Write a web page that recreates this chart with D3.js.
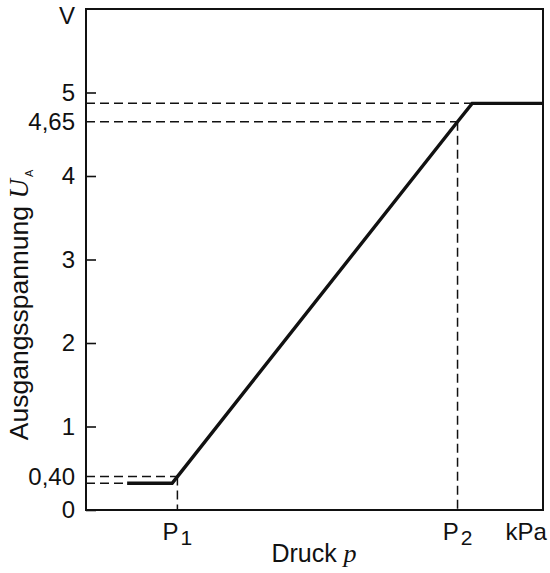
<!DOCTYPE html>
<html><head><meta charset="utf-8">
<script src="https://cdn.jsdelivr.net/npm/d3@7"></script>
<style>
body{margin:0;background:#fff;}
svg{display:block;}
text{font-family:"Liberation Sans",Arial,Helvetica,sans-serif;fill:#111;}
</style></head>
<body><svg id="c" width="550" height="573"></svg>
<script>
// Data
const pressure = [9, 18.85, 20, 81.3, 84.5, 100];
const voltage  = [0.32, 0.32, 0.40, 4.65, 4.87, 4.87];
const yTickValues = [0, 1, 2, 3, 4, 5];
const yLabelValues = [0, 0.40, 1, 2, 3, 4, 4.65, 5, 6];
const yLabelTexts  = ["0", "0,40", "1", "2", "3", "4", "4,65", "5", "V"];
const p1 = 20, p2 = 81.3, kpaPos = 96.3;
const lowLevel = 0.32, highLevel = 4.87;

const svg = d3.select("#c");
const x = d3.scaleLinear().domain([0, 100]).range([86, 543]);
const y = d3.scaleLinear().domain([0, 6]).range([510, 9]);
const ink = "#111";

// inward ticks
const tickAxis = svg.append("g").attr("transform", `translate(${x(0)},0)`)
  .call(d3.axisRight(y).tickValues(yTickValues).tickSize(10).tickFormat(""));
tickAxis.select(".domain").remove();
tickAxis.selectAll("line").attr("stroke", ink).attr("stroke-width", 1.6);

// labels
const labAxis = svg.append("g").attr("transform", `translate(${x(0)},0)`)
  .call(d3.axisLeft(y).tickValues(yLabelValues).tickSize(0).tickPadding(11)
    .tickFormat((d, i) => yLabelTexts[i]));
labAxis.select(".domain").remove();
labAxis.selectAll("text").attr("font-size", 24).attr("fill", ink)
  .attr("font-family", '"Liberation Sans",Arial,sans-serif');
labAxis.selectAll(".tick").filter(d => d === 6).select("text").attr("dy", "0.62em");

// dashed guides
const dash = "9,5";
const guides = [
  [[0, lowLevel], [pressure[0], lowLevel]],
  [[0, voltage[2]], [p1, voltage[2]]],
  [[p1, voltage[2]], [p1, 0]],
  [[0, voltage[3]], [p2, voltage[3]]],
  [[p2, voltage[3]], [p2, 0]],
  [[0, highLevel], [pressure[4], highLevel]]
];
const line = d3.line().x(d => x(d[0])).y(d => y(d[1]));
svg.append("g").selectAll("path").data(guides).join("path")
  .attr("d", line).attr("fill", "none").attr("stroke", ink)
  .attr("stroke-width", 1.5).attr("stroke-dasharray", dash);

// characteristic
svg.append("path").datum(pressure.map((p, i) => [p, voltage[i]]))
  .attr("d", line).attr("fill", "none").attr("stroke", ink)
  .attr("stroke-width", 3.4).attr("stroke-linejoin", "miter");

// frame
svg.append("rect").attr("x", x(0)).attr("y", y(6))
  .attr("width", x(100) - x(0)).attr("height", y(0) - y(6))
  .attr("fill", "none").attr("stroke", ink).attr("stroke-width", 2);

// x labels
function pLabel(pos, sub) {
  const t = svg.append("text").attr("x", x(pos)).attr("y", 540)
    .attr("text-anchor", "middle").attr("font-size", 24);
  t.append("tspan").text("P");
  t.append("tspan").attr("font-size", 21).attr("dy", 5).attr("dx", 2).text(sub);
}
pLabel(p1, "1");
pLabel(p2, "2");
svg.append("text").attr("x", x(kpaPos)).attr("y", 540).attr("text-anchor", "middle")
  .attr("font-size", 24).text("kPa");

const xt = svg.append("text").attr("x", 314).attr("y", 562).attr("text-anchor", "middle")
  .attr("font-size", 25);
xt.append("tspan").text("Druck ");
xt.append("tspan").attr("font-family", '"Liberation Serif","Times New Roman",serif')
  .attr("font-style", "italic").attr("font-size", 26).text("p");

const yt = svg.append("text").attr("transform", "translate(28,305) rotate(-90)")
  .attr("text-anchor", "middle").attr("font-size", 26.5);
yt.append("tspan").text("Ausgangsspannung ");
yt.append("tspan").attr("font-family", '"Liberation Serif","Times New Roman",serif')
  .attr("font-style", "italic").attr("font-size", 27).text("U");
yt.append("tspan").attr("font-size", 11).attr("dy", 5).attr("dx", 2).text("A");
</script></body></html>
